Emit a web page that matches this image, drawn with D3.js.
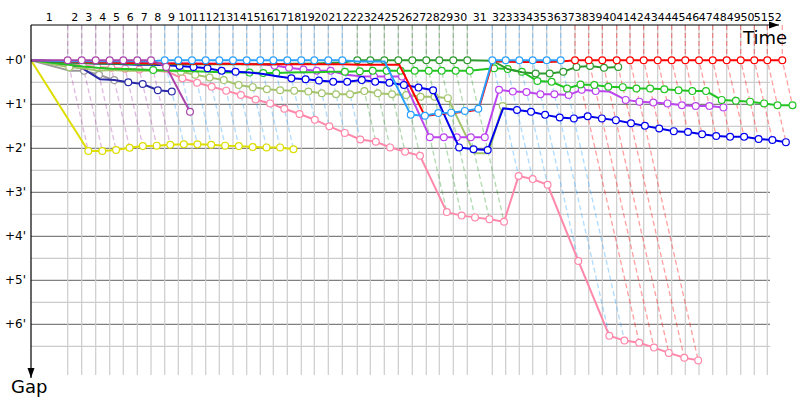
<!DOCTYPE html>
<html>
<head>
<meta charset="utf-8">
<script src="https://cdn.jsdelivr.net/npm/d3@7"></script>
<style>
  body { margin: 0; background: #fff; }
  text { font-family: "DejaVu Sans", sans-serif; }
</style>
</head>
<body>
<svg id="chart" width="800" height="400"></svg>
<script>
// leader's cumulative race time (minutes) at the end of each lap 1..52
const leaderTime = [3.67, 5.07, 6.47, 7.87, 9.23, 10.63, 12.0, 13.37, 14.73, 16.1,
  17.47, 18.83, 20.2, 21.57, 22.93, 24.23, 25.63, 27.03, 28.33, 29.73,
  31.13, 32.63, 33.93, 35.33, 36.73, 38.13, 39.53, 40.83, 42.23, 43.63,
  46.13, 47.47, 48.83, 50.17, 51.57, 52.97, 54.4, 55.77, 57.13, 58.57,
  59.9, 61.27, 62.67, 64.07, 65.43, 66.8, 68.17, 69.57, 70.97, 72.33,
  73.63, 75.13];
const lapLabels = d3.range(1, 53).map(String);
const gapTicks = [0, 1, 2, 3, 4, 5, 6];
const gapTickLabels = ["+0'", "+1'", "+2'", "+3'", "+4'", "+5'", "+6'"];

// gap to leader (minutes) per driver, index 0 = start
const gapYellow = [0, 2.06, 2.06, 2.04, 1.99, 1.95, 1.94, 1.92, 1.91, 1.91, 1.92, 1.94, 1.95, 1.97, 1.98, 1.98, 2.02];
const gapGrey = [0, .24, .24, .33, .45, .52];
const gapNavy = [0, .1, .2, .43, .45, .5, .54, .68, .71];
const gapPink = [0, .08, .12, .15, .17, .19, .21, .23, .26, .41, .51, .6, .69, .79, .89, .98,
  1.1, 1.22, 1.35, 1.5, 1.65, 1.8, 1.85, 1.98, 2.08, 2.17, 3.45, 3.53, 3.57, 3.61, 3.67,
  2.63, 2.7, 2.83, 4.56, 6.26, 6.37, 6.42, 6.53, 6.65, 6.76, 6.82];
const gapOlive = [0, .16, .18, .24, .22, .24, .24, .24, .24, .26, .33, .39, .45, .56, .61, .66,
  .68, .69, .71, .75, .77, .77, .7, .75, .77, .79, .83, .83, .86, 2.11, 2.11, 1.04];
const gapViolet = [0, .04, .05, .05, .06, .06, .06, .07, .07, .07, .07, .08, .08, .08, .08, .09,
  .12, .17, .21, .24, .24, .33, .36, .37, .37, .37, 1.75, 1.75, 1.75, 1.75, 1.75,
  .67, .71, .72, .77, .77, .79, .67, .7, .71, .9, .94, .96, .98, 1.02, 1.04, 1.04, 1.07];
const gapGreen = [0, .1, .14, .17, .19, .2, .21, .22, .23, .24, .25, .26, .27, .28, .28, .29,
  .29, .28, .27, .27, .26, .26, .25, .24, .24, .24, .24, .24, .24, .24, .24,
  .18, .2, .26, .47, .49, .64, .55, .56, .6, .61, .64, .64, .66, .68, .7, .7, .9, .92, .94, .98, 1.02, 1.02];
const gapBlue = [0, .04, .06, .07, .08, .09, .1, .1, .11, .13, .15, .18, .24, .26, .28, .31,
  .36, .41, .43, .46, .49, .49, .45, .49, .51, .56, .62, .68, 1.98, 2.02, 2.04,
  1.09, 1.13, 1.17, 1.24, 1.3, 1.32, 1.27, 1.32, 1.36, 1.43, 1.49, 1.55, 1.61, 1.63, 1.68,
  1.72, 1.74, 1.74, 1.79, 1.81, 1.86];
const gapDarkGreen = [0, .05, .06, .07, .08, .08, .09, .09, .09, .09, .09, .09, .09, .09, .09, .09,
  .09, .08, .08, .07, .06, .05, 0, 0, 0, 0, 0, 0, 0, 0, 0, .01, .2, .27, .3, .3, .26, .15, .13, .17, .15];
const gapRed = [0, .03, .04, .05, .05, .06, .06, .07, .07, .07, .08, .08, .08, .08, .09, .09,
  .09, .09, .09, .09, .09, .09, .1, .1, .1, .1, 1.27, 1.22, 1.2, 1.17, 1.12,
  .03, .03, .04, .04, .04, .03, 0, 0, 0, 0, 0, 0, 0, 0, 0, 0, 0, 0, 0, 0, 0, 0];
const gapLightBlue = [0, .02, .02, .02, .02, .02, .02, .02, 0, 0, 0, 0, 0, 0, 0, 0, 0, 0, 0, 0, 0, 0,
  .03, .03, .03, 1.24, 1.26, 1.2, 1.19, 1.15, 1.1, 0, 0, 0, 0, 0, 0];
const gapPurple = [0, 0, 0, 0, 0, 0, 0, 0, .15, 1.17];

// drawing order: first drawn = bottom
const drivers = [
  {color: "#dddd00", gaps: gapYellow},
  {color: "#999999", gaps: gapGrey},
  {color: "#2b2ba8", gaps: gapNavy},
  {color: "#ff88aa", gaps: gapPink},
  {color: "#a3c46c", gaps: gapOlive},
  {color: "#bb44ee", gaps: gapViolet},
  {color: "#22c422", gaps: gapGreen},
  {color: "#0000ee", gaps: gapBlue},
  {color: "#2e9a2e", gaps: gapDarkGreen},
  {color: "#ff0000", gaps: gapRed},
  {color: "#2aa0ff", gaps: gapLightBlue},
  {color: "#aa44aa", gaps: gapPurple}
];

const svg = d3.select("#chart");
const plotL = 31, plotR = 770, plotT = 25, plotB = 375;

const x = d3.scaleLinear().domain([0, 73.9]).range([plotL, plotR]);
const y = d3.scaleLinear().domain([0, 7]).range([60.3, 368.3]);
const lapT = i => i === 0 ? 0 : leaderTime[i - 1];
const px = (lap, gap) => x(lapT(lap) + gap);

// horizontal grid, half minutes light, minutes dark
const hLines = d3.range(0.5, 7, 0.5);
svg.append("g").selectAll("line")
  .data(hLines)
  .enter().append("line")
    .attr("x1", plotL).attr("x2", plotR)
    .attr("y1", d => y(d)).attr("y2", d => y(d))
    .attr("stroke", d => d % 1 === 0 ? "#808080" : "#cccccc")
    .attr("stroke-width", 1.2);

// vertical grid at each leader lap
svg.append("g").selectAll("line")
  .data(leaderTime.filter(t => x(t) <= plotR))
  .enter().append("line")
    .attr("x1", d => x(d)).attr("x2", d => x(d))
    .attr("y1", plotT).attr("y2", plotB)
    .attr("stroke", "#cccccc")
    .attr("stroke-width", 1.2);

// per lap: leader colour, last car, and which markers stay visible
drivers.forEach(dr => dr.marked = new Set());
const lapInfo = leaderTime.map((t, i) => {
  const lap = i + 1;
  const cars = drivers
    .filter(dr => dr.gaps[lap] !== undefined)
    .map(dr => ({dr, gap: dr.gaps[lap]}))
    .sort((a, b) => a.gap - b.gap);
  const placed = [];
  cars.forEach(c => {
    const cx = px(lap, c.gap), cy = y(c.gap);
    if (placed.every(p => Math.hypot(p[0] - cx, p[1] - cy) >= 5)) {
      placed.push([cx, cy]);
      c.dr.marked.add(lap);
    }
  });
  return {t, color: cars[0].dr.color, maxGap: cars[cars.length - 1].gap};
});

// lap dashed lines: from leader at lap n down to the last car on that lap
svg.append("g").selectAll("path")
  .data(lapInfo)
  .enter().append("path")
    .attr("d", d => "M" + x(d.t) + "," + plotT + "V" + y(0) +
      "L" + x(d.t + d.maxGap) + "," + y(d.maxGap))
    .attr("fill", "none")
    .attr("stroke", d => d.color)
    .attr("stroke-opacity", 0.38)
    .attr("stroke-width", 1.3)
    .attr("stroke-dasharray", "5,3");

// driver lines and markers
const line = d3.line()
  .x(d => px(d.lap, d.gap))
  .y(d => y(d.gap));

drivers.forEach(dr => {
  const pts = dr.gaps.map((g, i) => ({lap: i, gap: g}));
  const g = svg.append("g");
  g.append("path")
    .datum(pts)
    .attr("d", line)
    .attr("fill", "none")
    .attr("stroke", dr.color)
    .attr("stroke-width", 2);
  g.selectAll("circle")
    .data(pts.filter(d => dr.marked.has(d.lap)))
    .enter().append("circle")
      .attr("cx", d => px(d.lap, d.gap))
      .attr("cy", d => y(d.gap))
      .attr("r", 3.4)
      .attr("fill", "#fff")
      .attr("stroke", dr.color)
      .attr("stroke-width", 1.2);
});

// axes with arrows
svg.append("defs").append("marker")
    .attr("id", "arrow")
    .attr("viewBox", "0 0 10 10")
    .attr("refX", 10).attr("refY", 5)
    .attr("markerWidth", 10).attr("markerHeight", 10)
    .attr("markerUnits", "userSpaceOnUse")
    .attr("orient", "auto")
  .append("path")
    .attr("d", "M0,1.5L10,5L0,8.5Z")
    .attr("fill", "#000");

svg.append("line")
  .attr("x1", plotL).attr("y1", plotT).attr("x2", 779).attr("y2", plotT)
  .attr("stroke", "#000").attr("stroke-width", 1.2)
  .attr("marker-end", "url(#arrow)");
svg.append("line")
  .attr("x1", plotL).attr("y1", plotT).attr("x2", plotL).attr("y2", 378)
  .attr("stroke", "#000").attr("stroke-width", 1.2)
  .attr("marker-end", "url(#arrow)");

// lap labels centred in each lap
svg.append("g").selectAll("text")
  .data(lapLabels)
  .enter().append("text")
    .attr("x", (d, i) => (x(lapT(i)) + x(lapT(i + 1))) / 2)
    .attr("y", 21)
    .attr("text-anchor", "middle")
    .attr("font-family", "Liberation Sans, sans-serif")
    .attr("font-size", 11)
    .attr("fill", "#000")
    .text(d => d);

// gap labels
svg.append("g").selectAll("text")
  .data(gapTicks)
  .enter().append("text")
    .attr("x", 26)
    .attr("y", d => y(d) + 4)
    .attr("text-anchor", "end")
    .attr("font-size", 12)
    .attr("fill", "#000")
    .text((d, i) => gapTickLabels[i]);

svg.append("text")
  .attr("x", 743).attr("y", 44)
  .attr("font-size", 18)
  .text("Time");
svg.append("text")
  .attr("x", 11).attr("y", 393)
  .attr("font-size", 18)
  .text("Gap");
</script>
</body>
</html>
